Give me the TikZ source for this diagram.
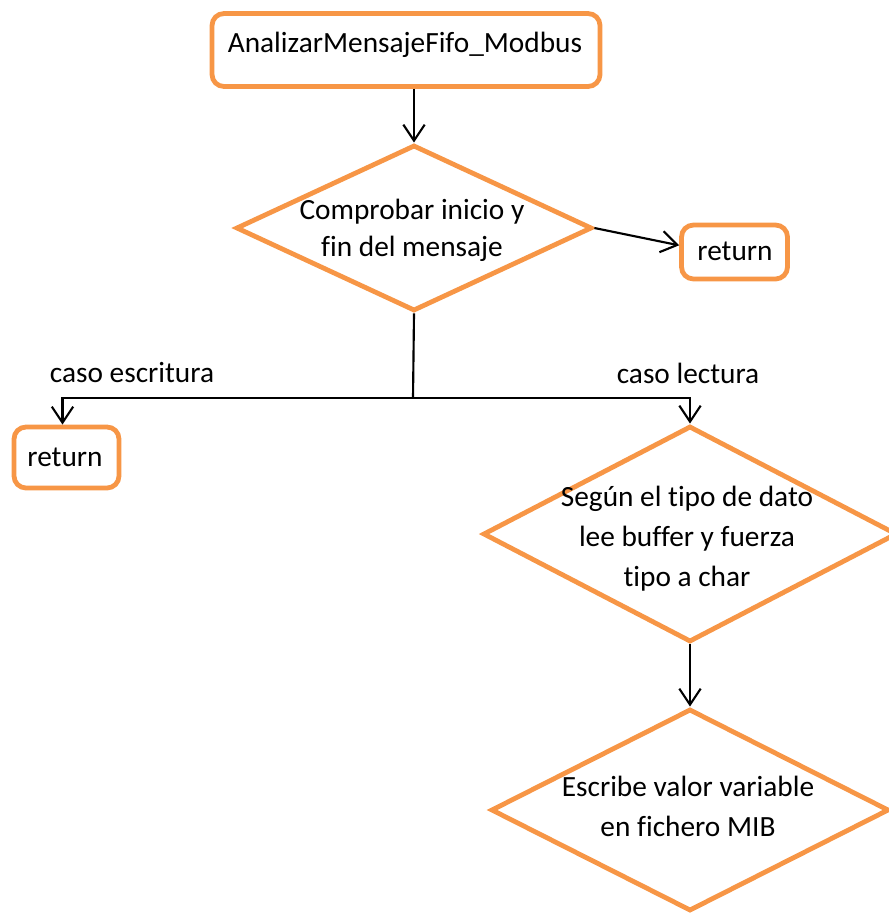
\documentclass[tikz,border=0pt]{standalone}
\usepackage{fontspec}
\setmainfont{Carlito}[Ligatures=NoCommon]
\usetikzlibrary{shapes.geometric,arrows.meta,calc}
\definecolor{flowline}{HTML}{F79646}
\tikzset{
  px/.style={x=0.75pt,y=-0.75pt},
  procbox/.style={draw=flowline,line width=3.6pt,rounded corners=9pt,fill=white,inner sep=0pt},
  decision/.style={diamond,draw=flowline,line width=3.6pt,fill=white,inner sep=0pt,shape aspect=2},
  txt/.style={font=\fontsize{22}{30}\selectfont,align=center,inner sep=0pt},
  arr/.style={line width=1.6pt,-{Straight Barb[length=12pt,width=16pt,line width=1.6pt]}},
  wire/.style={line width=1.6pt}
}
\begin{document}
\begin{tikzpicture}[px]
\useasboundingbox (0,0) rectangle (889,914);

% boxes
\node[procbox,minimum width=388*0.75pt,minimum height=73*0.75pt] (start) at (406,50) {};
\node[txt] (starttxt) at (405,45) {AnalizarMensajeFifo\_Modbus};

\node[procbox,minimum width=106*0.75pt,minimum height=54*0.75pt] (ret1) at (734.5,252) {};
\node[txt] (ret1txt) at (735,251) {return};

\node[procbox,minimum width=105*0.75pt,minimum height=61*0.75pt] (ret2) at (66.5,457.5) {};
\node[txt] (ret2txt) at (65,457) {return};

% decisions
\node[decision,minimum width=356*0.75pt,minimum height=166*0.75pt] (chk) at (414,228) {};
\node[txt,font=\fontsize{22}{28}\selectfont] (chktxt) at (412,230) {Comprobar inicio y\\fin del mensaje};

\node[decision,minimum width=414*0.75pt,minimum height=216*0.75pt] (tipo) at (690,534) {};
\node[txt] (tipotxt) at (687,539) {Según el tipo de dato\\lee buffer y fuerza\\tipo a char};

\node[decision,minimum width=398*0.75pt,minimum height=202*0.75pt] (mib) at (690,810) {};
\node[txt] (mibtxt) at (688,806) {Escribe valor variable\\en fichero MIB};

% branch labels
\node[txt] (lblw) at (132,373) {caso escritura};
\node[txt] (lblr) at (688,373) {caso lectura};

% connectors
\coordinate (split) at (413,398);
\draw[arr] (chk.north |- start.south) -- (chk.north);
\draw[arr] (chk.east) -- ([yshift=5pt]ret1.west);
\draw[wire] (chk.south) -- (split);
\draw[arr] (split) -| ([xshift=-3pt]ret2.north);
\draw[arr] (split) -| (tipo.north);
\draw[arr] (tipo.south) -- (mib.north);
\end{tikzpicture}
\end{document}
